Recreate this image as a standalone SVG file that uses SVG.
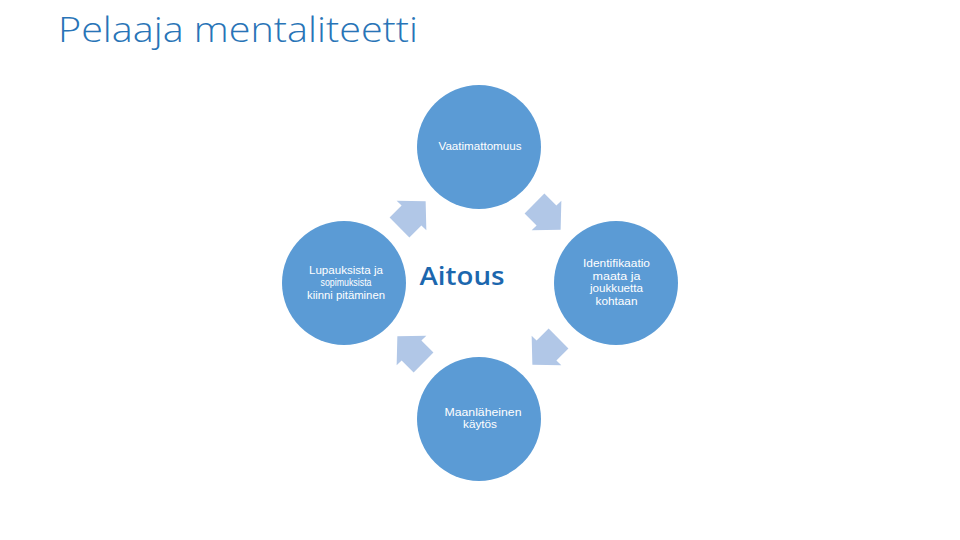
<svg xmlns="http://www.w3.org/2000/svg" width="960" height="540" viewBox="0 0 960 540">
<style>
.node{fill:#5B9BD5}
.lbl{font-family:"Liberation Sans",Arial,sans-serif;font-size:11px;fill:#FFFFFF;text-anchor:middle}
.arr{fill:#B1C7E7}
</style>
<defs>
<polygon id="arrow" points="-17,-14 0,-14 0,-21 20,0 0,21 0,14 -17,14"/>
</defs>
<rect width="960" height="540" fill="#FFFFFF"/>
<text x="58" y="42" font-family="'Open Sans','Liberation Sans',sans-serif" font-weight="300" font-size="35" fill="#2874B7" textLength="360" lengthAdjust="spacingAndGlyphs">Pelaaja mentaliteetti</text>
<g id="connectors">
<use href="#arrow" class="arr" transform="translate(411.5,215.5) rotate(-45)"/>
<use href="#arrow" class="arr" transform="translate(546.5,215.5) rotate(45)"/>
<use href="#arrow" class="arr" transform="translate(546.5,350.5) rotate(135)"/>
<use href="#arrow" class="arr" transform="translate(411.5,350.5) rotate(-135)"/>
</g>
<g id="center">
<text x="462" y="285" font-family="'Open Sans','Liberation Sans',sans-serif" font-weight="600" font-size="26" fill="#1C67AE" text-anchor="middle" textLength="85" lengthAdjust="spacingAndGlyphs">Aitous</text>
</g>
<g id="node-top">
<circle class="node" cx="479" cy="147" r="62"/>
<text class="lbl" x="480" y="150" textLength="83" lengthAdjust="spacingAndGlyphs">Vaatimattomuus</text>
</g>
<g id="node-right">
<circle class="node" cx="616" cy="283" r="62"/>
<text class="lbl" x="616.5" y="267" textLength="67" lengthAdjust="spacingAndGlyphs">Identifikaatio</text>
<text class="lbl" x="616.5" y="279.5" textLength="48" lengthAdjust="spacingAndGlyphs">maata ja</text>
<text class="lbl" x="616.5" y="292" textLength="53" lengthAdjust="spacingAndGlyphs">joukkuetta</text>
<text class="lbl" x="616.5" y="304.5" textLength="42" lengthAdjust="spacingAndGlyphs">kohtaan</text>
</g>
<g id="node-bottom">
<circle class="node" cx="479" cy="419" r="62"/>
<text class="lbl" x="483" y="415.5" textLength="77" lengthAdjust="spacingAndGlyphs">Maanläheinen</text>
<text class="lbl" x="480" y="428" textLength="34" lengthAdjust="spacingAndGlyphs">käytös</text>
</g>
<g id="node-left">
<circle class="node" cx="344" cy="283" r="62"/>
<text class="lbl" x="346" y="273.5" textLength="74" lengthAdjust="spacingAndGlyphs">Lupauksista ja</text>
<text class="lbl" x="346" y="286" textLength="51" lengthAdjust="spacingAndGlyphs">sopimuksista</text>
<text class="lbl" x="346" y="298.5" textLength="78" lengthAdjust="spacingAndGlyphs">kiinni pitäminen</text>
</g>
</svg>
